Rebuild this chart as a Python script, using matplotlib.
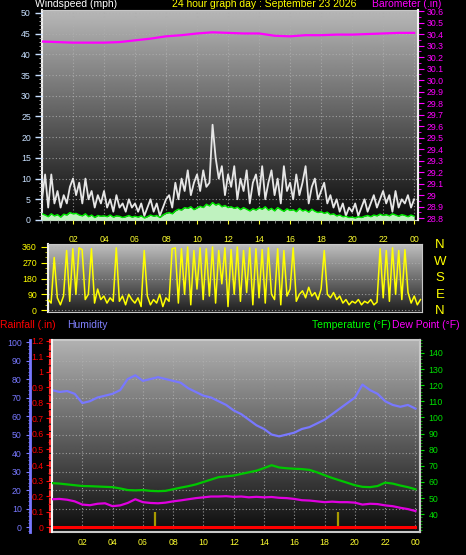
import numpy as np
import matplotlib
matplotlib.use('Agg')
import matplotlib.pyplot as plt
from matplotlib.ticker import MultipleLocator, FixedLocator

plt.rcParams['font.family'] = ['Liberation Sans', 'DejaVu Sans']

# ---------------- DATA ----------------
step_fast = 0.2   # hours between wind samples
wind_gust = [5, 11, 3, 11, 4, 7, 3, 6, 4, 8, 10,
             6, 9, 4, 10, 5, 7, 3, 6, 4, 7,
             3, 5, 2, 6, 3, 4, 2, 5, 3, 4,
             2, 4, 1, 3, 5, 2, 4, 1, 3, 5,
             6, 3, 9, 5, 10, 7, 12, 6, 9, 11,
             7, 12, 8, 9, 23, 15, 10, 13, 6, 11,
             8, 13, 5, 10, 7, 12, 4, 9, 11, 6,
             13, 5, 9, 12, 6, 10, 4, 13, 7, 9,
             5, 11, 6, 9, 13, 4, 8, 10, 5, 7,
             9, 4, 6, 3, 5, 2, 4, 1, 3, 2,
             4, 1, 3, 5, 2, 4, 6, 3, 5, 7,
             4, 6, 2, 7, 3, 5, 4, 6, 3, 5]
wind_avg = [1.5, 1.2, 0.8, 1.5, 1.0, 1.3, 0.7, 1.4, 1.2, 1.8, 1.5,
            1.6, 1.2, 1.0, 1.5, 0.8, 1.2, 0.6, 1.1, 0.9, 1.0,
            0.8, 1.2, 0.7, 1.0, 0.9, 0.6, 0.8, 1.1, 0.7, 0.9,
            0.7, 1.0, 0.5, 0.8, 1.2, 0.9, 1.1, 0.6, 1.2, 1.6,
            1.8, 1.5, 2.2, 2.6, 2.4, 3.0, 2.8, 3.2, 2.5, 2.9,
            3.3, 3.0, 3.8, 3.4, 4.2, 3.6, 3.9, 3.2, 3.5, 3.0,
            3.2, 2.8, 3.1, 2.5, 3.0, 2.6, 2.2, 2.7, 2.4, 2.9,
            2.6, 3.2, 2.4, 2.8, 2.2, 3.0, 2.5, 2.1, 2.7, 2.3,
            2.5, 2.0, 2.8, 2.2, 2.4, 1.9, 2.6, 2.1, 1.8, 2.0,
            1.6, 1.9, 1.3, 1.5, 1.0, 1.2, 0.8, 0.9, 0.6, 0.7,
            0.5, 0.8, 0.6, 0.9, 1.1, 0.8, 1.2, 1.0, 1.4, 1.1,
            1.3, 1.0, 1.5, 1.2, 0.9, 1.3, 1.1, 0.8, 1.2, 0.9]
wind_dir = [60, 40, 300, 70, 30, 80, 340, 50, 350, 90, 355,
            345, 60, 90, 350, 40, 120, 60, 80, 40, 70,
            50, 355, 50, 80, 30, 90, 60, 40, 70, 20,
            340, 80, 30, 60, 40, 90, 20, 70, 50, 350,
            355, 40, 350, 90, 360, 30, 340, 120, 355, 60,
            350, 80, 360, 40, 340, 150, 355, 20, 345, 90,
            360, 50, 340, 100, 355, 30, 350, 70, 345, 40,
            355, 90, 60, 350, 30, 340, 80, 120, 355, 50,
            90, 110, 70, 130, 80, 100, 60, 120, 340, 90,
            70, 100, 60, 80, 40, 60, 30, 50, 40, 60,
            30, 50, 40, 60, 30, 45, 350, 70, 340, 50,
            355, 90, 340, 60, 345, 100, 40, 80, 30, 60]

step_baro = 1.0
barometer = [30.335, 30.33, 30.325, 30.325, 30.325, 30.33, 30.345, 30.36,
             30.38, 30.39, 30.405, 30.415, 30.41, 30.405, 30.405, 30.385,
             30.38, 30.39, 30.39, 30.395, 30.395, 30.40, 30.405, 30.41, 30.41]

step_slow = 0.5
humidity = [74, 73, 73.5, 72, 67, 68, 70, 71, 72, 74, 80, 82, 79, 80, 81, 80,
            79, 78, 75, 73, 71, 70, 68, 66, 63, 61, 58, 55, 53, 50, 49, 50,
            51, 53, 54, 56, 58, 61, 64, 67, 70, 77, 74, 72, 68, 66, 65, 66, 64]
temperature = [59.3, 59.0, 58.5, 58.0, 57.5, 57.4, 57.2, 57.0, 56.8, 56.0,
               55.0, 54.8, 55.0, 54.5, 54.3, 54.5, 55.5, 56.5, 57.4, 58.5,
               60.0, 61.5, 63.0, 63.5, 64.0, 65.0, 66.0, 67.0, 68.6, 70.4,
               69.0, 68.5, 68.2, 68.0, 67.5, 66.0, 64.2, 62.5, 61.0, 59.5,
               58.0, 57.0, 56.8, 57.5, 59.6, 59.0, 57.8, 56.8, 55.5]
dew_point = [49.3, 49.5, 49.0, 48.0, 46.0, 45.6, 46.5, 46.8, 45.0, 45.5,
             47.0, 49.3, 47.5, 47.0, 46.8, 47.2, 48.0, 48.6, 49.3, 50.0,
             50.5, 51.0, 51.0, 51.2, 50.8, 51.0, 50.5, 50.8, 50.5, 50.7,
             50.2, 50.0, 49.5, 48.7, 48.5, 48.0, 47.5, 47.8, 47.5, 47.5,
             47.2, 46.0, 46.5, 46.3, 45.5, 45.0, 44.0, 43.2, 42.0]
rain_total = [0.0] * 25
rain_event_hours = [6.8, 18.9]
rain_event_amount = [0.1, 0.1]

hour_ticks = [2, 4, 6, 8, 10, 12, 14, 16, 18, 20, 22, 24]
hour_labels = ['02', '04', '06', '08', '10', '12', '14', '16', '18', '20', '22', '00']

# ---------------- FIGURE ----------------
W, H = 466, 555
fig = plt.figure(figsize=(W / 100, H / 100), dpi=100, facecolor='black')


def px_axes(l, t, r, b):
    return fig.add_axes([l / W, 1 - b / H, (r - l) / W, (b - t) / H])


def gradient(ax, top, bottom):
    g = np.linspace(bottom, top, 256)[:, None]
    ax.imshow(g, extent=[0, 1, 0, 1], transform=ax.transAxes, aspect='auto',
              cmap='gray', vmin=0, vmax=1, origin='lower', zorder=0,
              interpolation='bilinear')


grid_kw = dict(color='#b0b0b0', lw=0.8, ls=(0, (1, 2)), alpha=0.8)
frame_col = '#c8c8c8'
FS = 6.3

t_fast = np.arange(len(wind_gust)) * step_fast
t_baro = np.arange(len(barometer)) * step_baro
t_slow = np.arange(len(humidity)) * step_slow
t_rain = np.arange(len(rain_total)) * 1.0

# ---- top panel: wind speed + barometer ----
axw = px_axes(42, 10, 418, 220)
axw.set_facecolor('black')
gradient(axw, 0.72, 0.04)
axw.plot(t_fast, wind_gust, color='#e6e6e6', lw=1.3, zorder=3)
axw.fill_between(t_fast, 0, wind_avg, color='#bff2bf', lw=0, zorder=4)
axw.plot(t_fast, wind_avg, color='#00f000', lw=1.0, zorder=5)
axw.set_xlim(0, 24.25)
axw.set_ylim(0, 50.7)
axw.yaxis.set_major_locator(MultipleLocator(5))
axw.yaxis.set_minor_locator(MultipleLocator(1))
axw.xaxis.set_major_locator(FixedLocator(hour_ticks))
axw.set_xticklabels(hour_labels)
axw.xaxis.set_minor_locator(MultipleLocator(0.5))
axw.tick_params(axis='y', which='major', colors='#c8e0ff', labelsize=FS, length=5, pad=3, width=1)
axw.tick_params(axis='y', which='minor', colors='#c8c8c8', length=2.5)
axw.tick_params(axis='x', which='major', colors='#ffff30', labelsize=FS, length=3, pad=8)
axw.tick_params(axis='x', which='minor', colors='#909090', length=2)
axw.grid(True, which='major', **grid_kw)
axw.set_axisbelow(False)
for s in axw.spines.values():
    s.set_color(frame_col)
axw.spines['left'].set_color('#f0f0f0')
axw.spines['left'].set_linewidth(1.5)

axb = axw.twinx()
axb.plot(t_baro, barometer, color='#ff00ff', lw=1.6, zorder=6)
axb.set_ylim(28.783, 30.609)
axb.set_yticks(np.round(np.arange(28.8, 30.65, 0.1), 1))
axb.set_yticklabels([('%.1f' % v).rstrip('0').rstrip('.') if abs(v - 29) < 1e-6 else '%.1f' % v
                     for v in np.arange(28.8, 30.65, 0.1)])
axb.yaxis.set_minor_locator(MultipleLocator(0.05))
axb.tick_params(axis='y', which='major', colors='#ff00ff', labelsize=FS, length=4, pad=2.5)
axb.tick_params(axis='y', which='minor', colors='#ff00ff', length=2)
for s in axb.spines.values():
    s.set_visible(False)
axb.spines['right'].set_visible(True)
axb.spines['right'].set_color('#f0f0f0')
axb.spines['right'].set_linewidth(1.5)

fig.text(35 / W, 1 - 4 / H, 'Windspeed (mph)', color='white', fontsize=7.5, va='center', ha='left')
fig.text(172 / W, 1 - 4 / H, '24 hour graph day : September 23 2026', color='#ffff00',
         fontsize=7.5, va='center', ha='left')
fig.text(372 / W, 1 - 4 / H, 'Barometer (.in)', color='#ff00ff', fontsize=7.5, va='center', ha='left')

# ---- middle panel: wind direction ----
axd = px_axes(48, 244, 422, 312)
axd.set_facecolor('black')
gradient(axd, 0.75, 0.12)
axd.plot(t_fast, wind_dir, color='#ffff00', lw=1.1, zorder=3)
axd.set_xlim(0, 24.1)
axd.set_ylim(-11, 377)
axd.set_yticks([0, 90, 180, 270, 360])
axd.yaxis.set_minor_locator(MultipleLocator(30))
axd.xaxis.set_major_locator(FixedLocator(hour_ticks))
axd.tick_params(axis='x', which='both', length=0, labelbottom=False)
axd.tick_params(axis='y', which='major', colors='#ffff00', labelsize=FS, length=5, pad=3)
axd.tick_params(axis='y', which='minor', colors='#d0d000', length=2.5)
axd.grid(True, axis='y', **grid_kw)
for s in axd.spines.values():
    s.set_color(frame_col)
axd.spines['left'].set_color('#f0f0f0')
axd.spines['left'].set_linewidth(1.5)

for letter, yp in zip(['N', 'W', 'S', 'E', 'N'], [245, 262, 278, 295, 311]):
    fig.text(440 / W, 1 - yp / H, letter, color='#ffff00', fontsize=9.5, ha='center', va='center')

# ---- bottom panel: humidity / rain / temperature ----
axh = px_axes(52, 340, 420, 532)
axh.set_facecolor('black')
gradient(axh, 0.70, 0.05)
axh.plot(t_slow, humidity, color='#7878ff', lw=1.6, zorder=3)
axh.set_xlim(0, 24.3)
axh.set_ylim(-2.7, 101.1)
axh.yaxis.set_major_locator(MultipleLocator(10))
axh.yaxis.set_minor_locator(MultipleLocator(2))
axh.xaxis.set_major_locator(FixedLocator(hour_ticks))
axh.set_xticklabels(hour_labels)
axh.tick_params(axis='x', colors='#ffff30', labelsize=FS, length=0, pad=4)
axh.tick_params(axis='y', which='major', colors='#7878ff', labelsize=FS, length=3, pad=3)
axh.tick_params(axis='y', which='minor', colors='#7878ff', length=1.5)
axh.grid(True, which='major', **grid_kw)
axh.spines['left'].set_position(('outward', 22 * 0.72))
axh.spines['left'].set_color('#7878ff')
axh.spines['left'].set_linewidth(2)
for k in ['top', 'bottom', 'right']:
    axh.spines[k].set_color(frame_col)
    axh.spines[k].set_linewidth(1.5)

axr = axh.twinx()
axr.yaxis.tick_left()
axr.plot(t_rain, rain_total, color='#ff0000', lw=2.2, zorder=5)
axr.vlines(rain_event_hours, 0, rain_event_amount, color='#a89a00', lw=1.6, zorder=4)
axr.set_ylim(-0.032, 1.206)
axr.set_yticks(np.round(np.arange(0, 1.25, 0.1), 1))
axr.set_yticklabels(['0', '0.1', '0.2', '0.3', '0.4', '0.5', '0.6', '0.7', '0.8', '0.9', '1', '1.1', '1.2'])
axr.yaxis.set_minor_locator(MultipleLocator(0.05))
axr.tick_params(axis='y', which='major', colors='#ff0000', labelsize=FS, length=3, pad=1.5)
axr.tick_params(axis='y', which='minor', colors='#ff0000', length=1.5)
for s in axr.spines.values():
    s.set_visible(False)
axr.spines['left'].set_visible(True)
axr.spines['left'].set_position(('outward', 1.5))
axr.spines['left'].set_color('#ff3030')
axr.spines['left'].set_linestyle((0, (2, 1.5)))
axr.spines['left'].set_linewidth(1.5)

axt = axh.twinx()
axt.plot(t_slow, temperature, color='#00c800', lw=1.6, zorder=5)
axt.plot(t_slow, dew_point, color='#e000e0', lw=1.6, zorder=5)
axt.set_ylim(29, 148)
axt.yaxis.set_major_locator(FixedLocator(np.arange(40, 141, 10)))
axt.yaxis.set_minor_locator(MultipleLocator(2))
axt.tick_params(axis='y', which='major', colors='#00e000', labelsize=FS, length=3, pad=3)
axt.tick_params(axis='y', which='minor', colors='#00c000', length=1.5)
for s in axt.spines.values():
    s.set_visible(False)
axt.spines['left'].set_visible(True)
axt.spines['left'].set_color('#f4f4f4')
axt.spines['left'].set_linewidth(1.5)
axt.spines['right'].set_visible(True)
axt.spines['right'].set_color(frame_col)
axt.spines['right'].set_linewidth(1.5)

fig.text(0 / W, 1 - 325 / H, 'Rainfall (.in)', color='#ff0000', fontsize=7.5, va='center', ha='left')
fig.text(67 / W, 1 - 325 / H, 'Humidity', color='#8080ff', fontsize=7.5, va='center', ha='left')
fig.text(312 / W, 1 - 325 / H, 'Temperature (°F)', color='#00ff00', fontsize=7.5, va='center', ha='left')
fig.text(392 / W, 1 - 325 / H, 'Dew Point (°F)', color='#ff00ff', fontsize=7.5, va='center', ha='left')

fig.savefig('out.png', dpi=100, facecolor='black')
